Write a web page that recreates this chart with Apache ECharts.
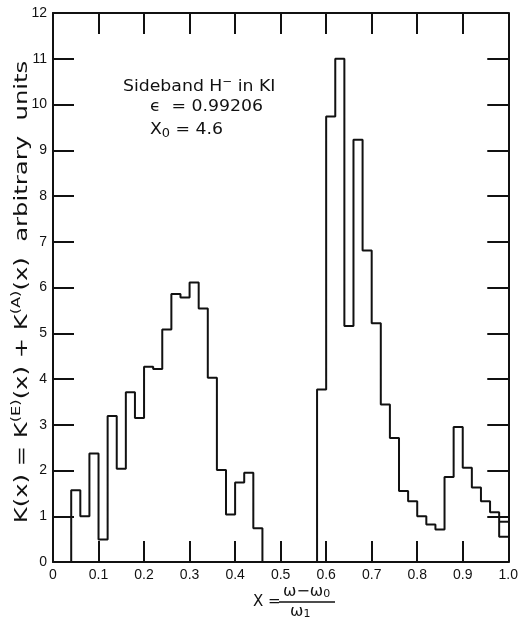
<!DOCTYPE html>
<html>
<head>
<meta charset="utf-8">
<script src="https://cdn.jsdelivr.net/npm/echarts@6/dist/echarts.min.js"></script>
<style>
  html, body { margin: 0; padding: 0; background: #fff; }
  #chart { width: 521px; height: 617px; }
</style>
</head>
<body>
<div id="chart"></div>
<script>
// bins of width 0.02 from x = 0 to x = 1
const binWidth = 0.02
const binValues = [
  0, 0, 1.57, 1.0, 2.37, 0.49, 3.19, 2.04, 3.71, 3.15,
  4.27, 4.22, 5.08, 5.86, 5.78, 6.11, 5.54, 4.03, 2.01, 1.04,
  1.74, 1.95, 0.74, 0, 0, 0, 0, 0, 0, 3.77,
  9.74, 11.0, 5.16, 9.23, 6.81, 5.22, 3.44, 2.71, 1.55, 1.33,
  1.0, 0.82, 0.71, 1.86, 2.95, 2.06, 1.63, 1.33, 1.09, 0.55
]
// the last bin has a second level drawn on top of it
const lastBinUpper = [[0.98, 0.88], [1.0, 0.88]]

const xTicks = ['0', '0.1', '0.2', '0.3', '0.4', '0.5', '0.6', '0.7', '0.8', '0.9', '1.0']

let stepData = binValues.map((v, i) => [+(i * binWidth).toFixed(2), v])
stepData.push([1.0, binValues[binValues.length - 1]])

const ink = '#111'
const font = 'Liberation Sans, DejaVu Sans, sans-serif'
const wide = 'DejaVu Sans, sans-serif'

let chart = echarts.init(document.getElementById('chart'))

const frameLine = { show: true, onZero: false, lineStyle: { color: ink, width: 2 } }
const tick = { show: true, inside: true, length: 21, lineStyle: { color: ink, width: 2 } }

chart.setOption({
  backgroundColor: '#fff',
  animation: false,
  grid: { left: 53, right: 8, top: 13, bottom: 55 },
  xAxis: [
    {
      type: 'value', min: 0, max: 1, interval: 0.1, position: 'bottom',
      axisLine: frameLine, axisTick: tick, splitLine: { show: false },
      axisLabel: {
        color: ink, fontSize: 14, fontFamily: font, margin: 6,
        formatter: v => xTicks[Math.round(v * 10)]
      }
    },
    {
      type: 'value', min: 0, max: 1, interval: 0.1, position: 'top',
      axisLine: frameLine, axisTick: tick, splitLine: { show: false },
      axisLabel: { show: false }
    }
  ],
  yAxis: [
    {
      type: 'value', min: 0, max: 12, interval: 1, position: 'left',
      axisLine: frameLine, axisTick: tick, splitLine: { show: false },
      axisLabel: { color: ink, fontSize: 14, fontFamily: font, margin: 6 }
    },
    {
      type: 'value', min: 0, max: 12, interval: 1, position: 'right',
      axisLine: frameLine, axisTick: tick, splitLine: { show: false },
      axisLabel: { show: false }
    }
  ],
  series: [
    {
      type: 'line', step: 'end', data: stepData, symbol: 'none',
      lineStyle: { color: ink, width: 2 }, z: 3
    },
    {
      type: 'line', data: lastBinUpper, symbol: 'none',
      lineStyle: { color: ink, width: 2 }, z: 3
    }
  ],
  graphic: [
    // annotation
    {
      type: 'text', x: 123, y: 77, scaleX: 1.08,
      style: {
        text: 'Sideband H{sup|−} in KI',
        font: '16px ' + wide, fill: ink,
        rich: { sup: { fontSize: 11, fontFamily: wide, padding: [0, 0, 8, 0], fill: ink } }
      }
    },
    {
      type: 'text', x: 150, y: 99, scaleX: 1.08,
      style: { text: 'ϵ  = 0.99206', font: '16px ' + wide, fill: ink }
    },
    {
      type: 'text', x: 150, y: 120, scaleX: 1.08,
      style: {
        text: 'X{sub|0} = 4.6', font: '16px ' + wide, fill: ink,
        rich: { sub: { fontSize: 12, fontFamily: wide, padding: [8, 0, 0, 0], fill: ink } }
      }
    },
    // y axis title
    {
      type: 'text', x: 22, y: 292, rotation: Math.PI / 2, scaleX: 1.35,
      style: {
        text: 'K(x) = K{sup|(E)}(x) + K{sup|(A)}(x)  arbitrary  units',
        font: '18px ' + wide, fill: ink, align: 'center', verticalAlign: 'middle',
        rich: { sup: { fontSize: 12, fontFamily: wide, padding: [0, 0, 10, 0], fill: ink } }
      }
    },
    // x axis title
    {
      type: 'text', x: 253, y: 595,
      style: { text: 'X =', font: '15px ' + wide, fill: ink }
    },
    {
      type: 'text', x: 283, y: 583,
      style: {
        text: 'ω−ω{sub|0}', font: '16px ' + wide, fill: ink,
        rich: { sub: { fontSize: 11, fontFamily: wide, padding: [6, 0, 0, 0], fill: ink } }
      }
    },
    {
      type: 'line', shape: { x1: 279, y1: 602, x2: 335, y2: 602 },
      style: { stroke: ink, lineWidth: 1.5 }
    },
    {
      type: 'text', x: 290, y: 603,
      style: {
        text: 'ω{sub|1}', font: '16px ' + wide, fill: ink,
        rich: { sub: { fontSize: 11, fontFamily: wide, padding: [6, 0, 0, 0], fill: ink } }
      }
    }
  ]
})
</script>
</body>
</html>
